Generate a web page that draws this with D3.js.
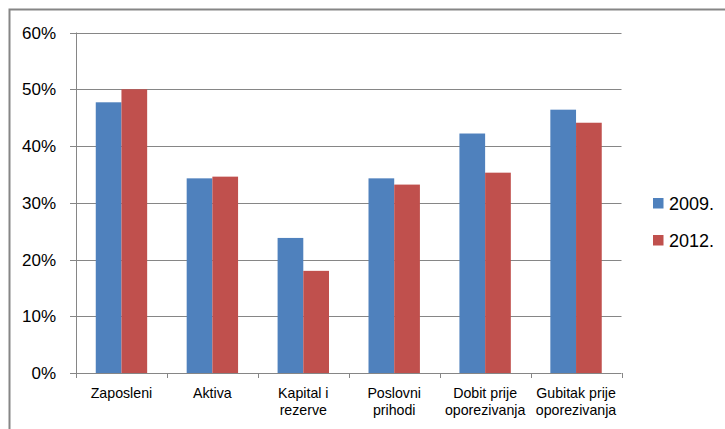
<!DOCTYPE html>
<html><head><meta charset="utf-8">
<script src="https://cdn.jsdelivr.net/npm/d3@7"></script>
<style>body{margin:0;background:#fff;}svg{display:block;font-family:"Liberation Sans",Arial,sans-serif;}</style>
</head><body>
<script>
const categories = [["Zaposleni"],["Aktiva"],["Kapital i","rezerve"],["Poslovni","prihodi"],["Dobit prije","oporezivanja"],["Gubitak prije","oporezivanja"]];
const series = ["2009.","2012."];
const values2009 = [47.7, 34.3, 23.8, 34.3, 42.2, 46.4];
const values2012 = [50.0, 34.6, 18.0, 33.2, 35.3, 44.1];
const yTicks = [0,10,20,30,40,50,60];
const colors = ["#4F81BD","#C0504D"];

(function(){
const W=725,H=429;
const svg=d3.select("body").append("svg").attr("width",W).attr("height",H);
// outer border
svg.append("rect").attr("x",9.5).attr("y",9.5).attr("width",W).attr("height",H).attr("fill","none").attr("stroke","#868686").attr("stroke-width",2);

const pLeft=76, pRight=621.5, pTop=32.5, pBottom=373;
const x=d3.scaleBand().domain(d3.range(categories.length)).range([pLeft,pRight]).paddingInner(0).paddingOuter(0);
const y=d3.scaleLinear().domain([0,60]).range([pBottom,pTop]);
const bw=25.7;

// gridlines
svg.append("g").selectAll("line").data(yTicks).join("line")
  .attr("x1",pLeft-6).attr("x2",pRight).attr("y1",d=>Math.round(y(d))+0.5).attr("y2",d=>Math.round(y(d))+0.5)
  .attr("stroke","#868686").attr("stroke-width",1);
// y labels
svg.append("g").selectAll("text").data(yTicks).join("text")
  .attr("x",56).attr("y",d=>y(d)+6).attr("text-anchor","end").attr("font-size",17).attr("fill","#000")
  .text(d=>d+"%");
// y axis line
svg.append("line").attr("x1",pLeft+0.5).attr("x2",pLeft+0.5).attr("y1",pTop).attr("y2",pBottom).attr("stroke","#868686");
// x ticks
svg.append("g").selectAll("line").data(d3.range(categories.length+1)).join("line")
  .attr("x1",i=>Math.round(pLeft+i*x.bandwidth())+0.5).attr("x2",i=>Math.round(pLeft+i*x.bandwidth())+0.5)
  .attr("y1",pBottom).attr("y2",pBottom+5).attr("stroke","#868686");

const data=[values2009,values2012];
data.forEach((vals,s)=>{
  svg.append("g").selectAll("rect").data(vals).join("rect")
    .attr("x",(d,i)=>x(i)+x.bandwidth()/2-bw+s*bw).attr("width",bw)
    .attr("y",d=>y(d)).attr("height",d=>pBottom-y(d)).attr("fill",colors[s]);
});

// x labels
const xl=svg.append("g").selectAll("text").data(categories).join("text")
  .attr("x",(d,i)=>x(i)+x.bandwidth()/2).attr("y",397.5).attr("text-anchor","middle").attr("font-size",14.2).attr("fill","#000");
xl.each(function(d){
  const cx=d3.select(this).attr("x");
  d3.select(this).selectAll("tspan").data(d).join("tspan").attr("x",cx).attr("dy",(t,j)=>j?17:0).text(t=>t);
});

// legend
const legY=[198,235];
series.forEach((s,i)=>{
  svg.append("rect").attr("x",653).attr("y",legY[i]).attr("width",10.5).attr("height",10.5).attr("fill",colors[i]);
  svg.append("text").attr("x",669).attr("y",legY[i]+11.5).attr("font-size",18).attr("fill","#000").text(s);
});
})();
</script>
</body></html>
